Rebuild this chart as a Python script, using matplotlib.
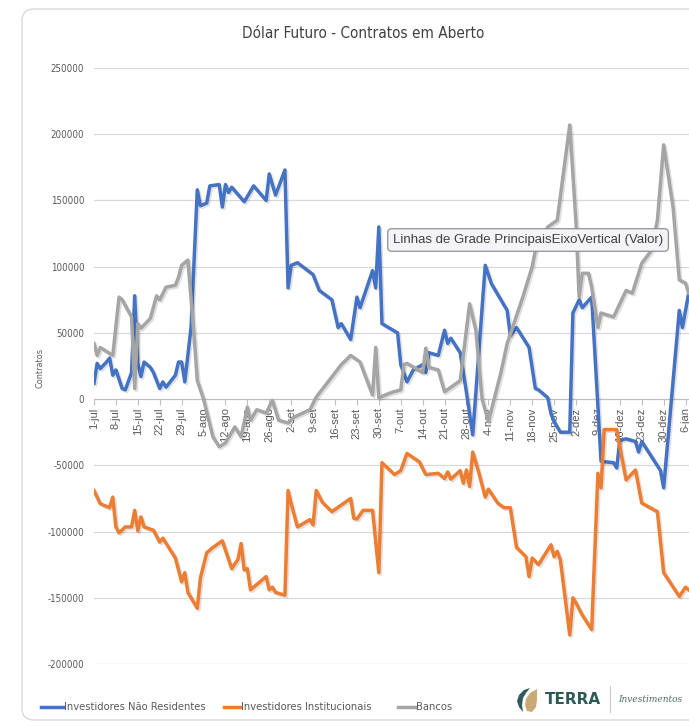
import numpy as np
import pandas as pd
import matplotlib
matplotlib.use("Agg")
from matplotlib import pyplot as plt
from matplotlib import font_manager
from matplotlib.lines import Line2D
from matplotlib.patches import FancyBboxPatch, Polygon
import matplotlib.patheffects as pe

# series: day offset from 1-jul, open contracts
nres_days = [0, 1, 2, 4, 5, 6, 7, 9, 10, 12, 13, 14, 15, 16, 18, 19, 21, 22, 23, 26, 27, 28, 29, 31,
             33, 34, 36, 37, 40, 41, 42, 43, 44, 48, 51, 55, 56, 58, 61, 62, 63, 65, 70, 72, 76, 78,
             79, 82, 84, 85, 89, 90, 91, 92, 97, 98, 100, 102, 105, 106, 107, 110, 112, 113, 114,
             117, 119, 121, 125, 127, 132, 133, 135, 139, 141, 142, 145, 146, 147, 149, 152, 153,
             155, 156, 159, 162, 166, 167, 168, 170, 173, 174, 175, 181, 182, 187, 188, 190]
nres_vals = [12000, 27000, 23000, 28000, 31000, 18000, 22000, 8000, 7000, 20000, 78000, 27000,
             17000, 28000, 24000, 20000, 8000, 13000, 9000, 18000, 28000, 28000, 13000, 54000,
             158000, 146000, 148000, 161000, 162000, 145000, 162000, 156000, 160000, 149000,
             161000, 150000, 170000, 154000, 173000, 84000, 101000, 103000, 94000, 82000, 75000,
             54000, 57000, 45000, 77000, 69000, 97000, 84000, 130000, 57000, 50000, 26000, 13000,
             22000, 26000, 20000, 35000, 33000, 52000, 42000, 46000, 35000, 5000, -27000, 101000,
             87000, 67000, 48000, 54000, 39000, 8000, 7000, 1000, -11000, -17000, -25000, -25000,
             65000, 75000, 69000, 77000, -47000, -48000, -52000, -31000, -30000, -32000, -40000,
             -32000, -54000, -67000, 67000, 54000, 80000]

inst_days = [0, 2, 5, 6, 7, 8, 10, 12, 13, 14, 15, 16, 19, 21, 22, 26, 28, 29, 30, 33, 34, 36, 38,
             41, 44, 46, 47, 48, 49, 50, 55, 56, 57, 58, 61, 62, 63, 65, 69, 70, 71, 73, 76, 79, 82,
             83, 84, 86, 89, 91, 92, 96, 98, 100, 104, 106, 110, 112, 113, 114, 117, 118, 119, 120,
             121, 123, 125, 126, 129, 131, 133, 135, 138, 139, 140, 142, 146, 147, 148, 149, 152,
             153, 154, 156, 159, 161, 162, 163, 167, 168, 170, 173, 175, 180, 182, 187, 189, 190]
inst_vals = [-69000, -79000, -82000, -74000, -96500, -101000, -96500, -96500, -84000, -99500,
             -89000, -96500, -99000, -108000, -105000, -120000, -138000, -131000, -146000,
             -158000, -135000, -116000, -112000, -107000, -128000, -121000, -109000, -129000,
             -128000, -144000, -134000, -144000, -142000, -146000, -148000, -69000, -79000,
             -96500, -91000, -95000, -69000, -78000, -85000, -80000, -75000, -90000, -90500,
             -84000, -84000, -131000, -48000, -57000, -54000, -41000, -47500, -57000, -56000,
             -60000, -55000, -60500, -54000, -63500, -53500, -66000, -40000, -56000, -74000,
             -68000, -78500, -82000, -82000, -112000, -119000, -134000, -120000, -125000,
             -110000, -119000, -115000, -121500, -178000, -150000, -154000, -163000, -174000,
             -56000, -67000, -23000, -23000, -36000, -61000, -53500, -78500, -85000, -131000,
             -149000, -142000, -144000]

banc_days = [0, 1, 2, 6, 8, 9, 12, 13, 14, 15, 18, 20, 21, 23, 26, 27, 28, 30, 32, 33, 35, 38, 40,
             42, 45, 47, 49, 50, 52, 55, 57, 59, 62, 64, 69, 71, 79, 82, 85, 89, 90, 91, 95, 98, 99,
             100, 105, 106, 107, 110, 112, 117, 120, 122, 124, 126, 130, 132, 137, 140, 141, 145,
             148, 149, 152, 154, 155, 156, 158, 159, 161, 162, 166, 170, 172, 175, 178, 180, 182,
             185, 187, 189, 190]
banc_vals = [42000, 33000, 39000, 33000, 77000, 75000, 62000, 8000, 57000, 53500, 61000, 78000,
             75000, 84500, 86000, 92000, 101000, 105000, 47000, 14000, 0, -28500, -36000, -33000,
             -21000, -28500, -6000, -16000, -8000, -10500, -1000, -16000, -18000, -13500, -8000,
             1500, 26000, 33000, 28000, 3000, 39000, 1000, 5000, 7000, 26000, 27000, 20000, 38500,
             24000, 22000, 5500, 14000, 72000, 52000, 0, -17000, 20000, 42000, 77000, 100000,
             112000, 130000, 135000, 153000, 207000, 133000, 77000, 95000, 95000, 84500, 54000,
             65000, 62000, 82000, 80000, 102500, 112000, 135000, 192000, 145000, 90000, 87500,
             80000]

series_names = ["Investidores Não Residentes", "Investidores Institucionais", "Bancos"]
series_colors = ["#4472C4", "#ED7D31", "#A5A5A5"]
pt_months = ["jan", "fev", "mar", "abr", "mai", "jun", "jul", "ago", "set", "out", "nov", "dez"]
y_ticks = [250000, 200000, 150000, 100000, 50000, 0, -50000, -100000, -150000, -200000]

start = pd.Timestamp("2019-07-01")
def to_dates(days):
    return start + pd.to_timedelta(days, unit="D")

# Excel's text looks condensed; use a narrow face if one is around
def pick_narrow():
    for fam, stretch in [("Liberation Sans Narrow", "normal"), ("DejaVu Sans", "condensed")]:
        try:
            path = font_manager.findfont(font_manager.FontProperties(family=fam, stretch=stretch),
                                         fallback_to_default=False)
        except Exception:
            continue
        if "Narrow" in path or "Condensed" in path:
            return dict(family=fam, fontstretch=stretch), 1.0
    return dict(family="DejaVu Sans"), 0.83

nfont, nscale = pick_narrow()

fig = plt.figure(figsize=(6.89, 7.27), dpi=100)
fig.patch.set_facecolor("white")

# chart card
card = FancyBboxPatch((0.22, 0.07), 7.2, 7.11, boxstyle="round,pad=0,rounding_size=0.12",
                      transform=fig.dpi_scale_trans, fc="white", ec="#d9d9d9", lw=1.0, zorder=0)
fig.add_artist(card)

ax = fig.add_axes([94 / 689, 1 - 664 / 727, 1 - 94 / 689, (664 - 68) / 727])
ax.set_facecolor("none")
for s in ["top", "right", "left"]:
    ax.spines[s].set_visible(False)
ax.spines["bottom"].set_position(("data", 0))
ax.spines["bottom"].set_color("#bfbfbf")

shadow = [pe.SimpleLineShadow(offset=(1.2, -1.2), shadow_color="k", alpha=0.12), pe.Normal()]
for days, vals, col in [(nres_days, nres_vals, series_colors[0]),
                        (inst_days, inst_vals, series_colors[1]),
                        (banc_days, banc_vals, series_colors[2])]:
    ax.plot(to_dates(days), vals, color=col, lw=2.5, solid_joinstyle="round",
            path_effects=shadow, zorder=3)

ax.set_ylim(-200000, 250000)
ax.set_xlim(start, start + pd.Timedelta(days=190.1))
ax.set_yticks(y_ticks)
ax.set_yticklabels([str(v) for v in y_ticks])
for lbl in ax.get_yticklabels():
    lbl.set(fontsize=7 * nscale, color="#595959", **nfont)
ax.yaxis.grid(True, color="#d9d9d9", lw=0.9)
ax.set_axisbelow(True)
ax.tick_params(axis="y", length=0, pad=7)

tick_dates = pd.date_range(start, periods=28, freq="7D")
ax.set_xticks(tick_dates)
ax.set_xticklabels([f"{d.day}-{pt_months[d.month - 1]}" for d in tick_dates])
ax.tick_params(axis="x", length=4, color="#bfbfbf", pad=2, labelrotation=90,
               labelsize=8, labelcolor="#595959")
for lbl in ax.get_xticklabels():
    lbl.set_family("Liberation Sans")

fig.text(40 / 689, 1 - 368 / 727, "Contratos", rotation=90, ha="center", va="center",
         fontsize=6.5 * nscale, color="#595959", **nfont)
fig.text(363 / 689, 1 - 34 / 727, "Dólar Futuro - Contratos em Aberto", ha="center",
         va="center", fontsize=11 * nscale, color="#404040", **nfont)

# hover tooltip
fig.text(393 / 689, 1 - 240 / 727, "Linhas de Grade PrincipaisEixoVertical (Valor)",
         ha="left", va="center", fontsize=9.5, color="#404040", family="Liberation Sans",
         bbox=dict(boxstyle="round,pad=0.4,rounding_size=0.3", fc="#f3f3f8", ec="#8f8f8f", lw=0.9))

# legend
leg_y = 1 - 707 / 727
for (x0, x1, tx), name, col in zip([(41, 63, 64), (224, 240, 241), (398, 415, 416)],
                                   series_names, series_colors):
    fig.add_artist(Line2D([x0 / 689, x1 / 689], [leg_y, leg_y], color=col, lw=2.5,
                          transform=fig.transFigure))
    fig.text(tx / 689, leg_y, name, ha="left", va="center", fontsize=8 * nscale,
             color="#595959", **nfont)

# logo
lax = fig.add_axes([505 / 689, 1 - 720 / 727, 184 / 689, 40 / 727])
lax.set_xlim(505, 689)
lax.set_ylim(720, 680)
lax.axis("off")
lax.add_patch(Polygon([(530, 688), (524, 690), (519, 695), (517, 701), (519, 707), (523, 712),
                       (522, 705), (523, 698), (526, 693)], closed=True, fc="#2f5b5b", ec="none"))
lax.add_patch(Polygon([(537, 689), (530, 693), (526, 699), (525, 705), (527, 711), (532, 712),
                       (536, 707), (537, 700)], closed=True, fc="#c9aa74", ec="none"))
lax.text(545, 699, "TERRA", ha="left", va="center", fontsize=11, fontweight="bold",
         color="#2e5959", family="DejaVu Sans")
lax.plot([610, 610], [686, 712], color="#c8c8c8", lw=0.8)
lax.text(618, 699, "Investimentos", ha="left", va="center", fontsize=6.5, style="italic",
         color="#4d6a6a", family="DejaVu Serif")

fig.savefig("out.png", dpi=100)
